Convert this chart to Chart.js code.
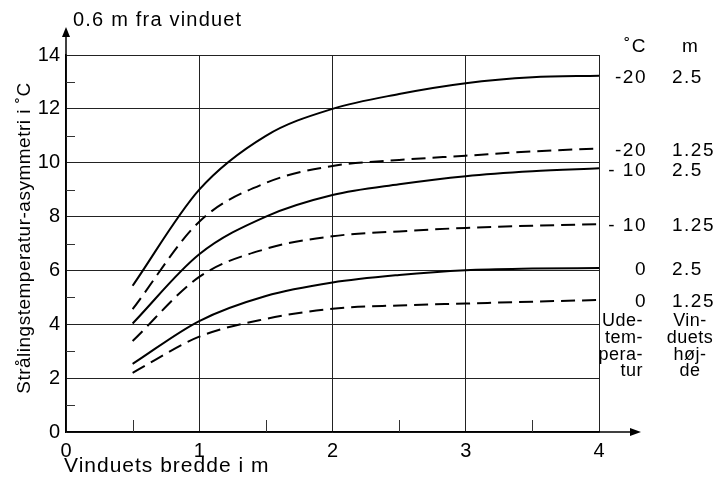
<!DOCTYPE html>
<html>
<head>
<meta charset="utf-8">
<script src="https://cdn.jsdelivr.net/npm/chart.js@4.4.1/dist/chart.umd.min.js"></script>
<style>
  html, body { margin: 0; padding: 0; background: #fff; }
  #wrap { width: 724px; height: 485px; }
</style>
</head>
<body>
<div id="wrap"><canvas id="chart" width="724" height="485"></canvas></div>
<script>
// Vinduets bredde (m)
const bredde = [0.5, 1, 1.5, 2, 2.5, 3, 3.5, 4];

// Strålingstemperatur-asymmetri (°C) per udetemperatur / vinduets højde
const minus20_250 = [5.43, 9.0, 11.0, 12.0, 12.55, 12.95, 13.17, 13.23];
const minus20_125 = [4.56, 7.81, 9.25, 9.88, 10.1, 10.26, 10.42, 10.53];
const minus10_250 = [4.03, 6.6, 8.0, 8.8, 9.2, 9.5, 9.68, 9.79];
const minus10_125 = [3.38, 5.76, 6.8, 7.27, 7.45, 7.58, 7.66, 7.72];
const nul_250 = [2.53, 4.12, 5.05, 5.55, 5.83, 6.01, 6.07, 6.09];
const nul_125 = [2.2, 3.54, 4.2, 4.58, 4.7, 4.77, 4.84, 4.9];

const udeTemp = ['-20', '-20', '- 10', '- 10', '0', '0'];
const hojde = ['2.5', '1.25', '2.5', '1.25', '2.5', '1.25'];

const yMinor = [1, 3, 5, 7, 9, 11, 13];
const xMinor = [0.5, 1.5, 2.5, 3.5];

const FONT = '"Liberation Sans", Arial, Helvetica, sans-serif';

function pts(ys) {
    return bredde.map((x, i) => ({ x: x, y: ys[i] }));
}

function serie(label, ys, dashed) {
    return {
        label: label,
        data: pts(ys),
        borderColor: '#000',
        borderWidth: 2,
        borderDash: dashed ? [14, 7] : [],
        pointRadius: 0,
        fill: false,
        cubicInterpolationMode: 'monotone'
    };
}

// pile, små hjælpestreger og tekster
const pynt = {
    id: 'pynt',
    afterDraw(chart) {
        const ctx = chart.ctx;
        const xs = chart.scales.x, ys = chart.scales.y;
        const a = chart.chartArea;
        ctx.save();
        ctx.strokeStyle = '#000';
        ctx.fillStyle = '#000';
        ctx.lineWidth = 1.5;

        // y-akse pil
        ctx.beginPath();
        ctx.moveTo(a.left, a.top);
        ctx.lineTo(a.left, 34);
        ctx.stroke();
        ctx.beginPath();
        ctx.moveTo(a.left, 27);
        ctx.lineTo(a.left - 4, 37);
        ctx.lineTo(a.left + 4, 37);
        ctx.closePath();
        ctx.fill();

        // x-akse pil
        ctx.beginPath();
        ctx.moveTo(a.right, a.bottom);
        ctx.lineTo(632, a.bottom);
        ctx.stroke();
        ctx.beginPath();
        ctx.moveTo(641, a.bottom);
        ctx.lineTo(630, a.bottom - 4);
        ctx.lineTo(630, a.bottom + 4);
        ctx.closePath();
        ctx.fill();

        // små streger
        ctx.lineWidth = 1;
        ctx.strokeStyle = '#333';
        yMinor.forEach(v => {
            const p = Math.round(ys.getPixelForValue(v)) + 0.5;
            ctx.beginPath();
            ctx.moveTo(a.left, p);
            ctx.lineTo(a.left + 9, p);
            ctx.stroke();
        });
        xMinor.forEach(v => {
            const p = Math.round(xs.getPixelForValue(v)) + 0.5;
            ctx.beginPath();
            ctx.moveTo(p, a.bottom);
            ctx.lineTo(p, a.bottom - 12);
            ctx.stroke();
        });

        ctx.textBaseline = 'middle';

        // overskrift
        ctx.font = '20px ' + FONT;
        ctx.letterSpacing = '1.2px';
        ctx.textAlign = 'left';
        ctx.fillText('0.6 m fra vinduet', 73, 20);

        // aksetitler
        ctx.font = '21px ' + FONT;
        ctx.letterSpacing = '1px';
        ctx.fillText('Vinduets bredde i m', 64, 466);

        ctx.save();
        ctx.translate(25, 238);
        ctx.rotate(-Math.PI / 2);
        ctx.textAlign = 'center';
        ctx.font = '19px ' + FONT;
        ctx.letterSpacing = '0.5px';
        ctx.fillText('Strålingstemperatur-asymmetri i \u02DAC', 0, 0);
        ctx.restore();

        // kolonneoverskrifter
        ctx.font = '19px ' + FONT;
        ctx.letterSpacing = '1.5px';
        ctx.textAlign = 'right';
        ctx.fillText('\u02DAC', 647, 47);
        ctx.textAlign = 'left';
        ctx.fillText('m', 682, 47);

        // etiketter ved kurvernes ende
        chart.data.datasets.forEach((ds, i) => {
            const last = ds.data[ds.data.length - 1];
            const py = ys.getPixelForValue(last.y) + 2;
            ctx.textAlign = 'right';
            ctx.fillText(udeTemp[i], 647, py);
            ctx.textAlign = 'left';
            ctx.fillText(hojde[i], 672, py);
        });

        // forklaring
        const venstre = ['Ude-', 'tem-', 'pera-', 'tur'];
        const hoejre = ['Vin-', 'duets', 'høj-', 'de'];
        const rows = [321, 338, 355, 371];
        ctx.font = '18px ' + FONT;
        ctx.letterSpacing = '0.5px';
        rows.forEach((y, i) => {
            ctx.textAlign = 'right';
            ctx.fillText(venstre[i], 643, y);
            ctx.textAlign = 'center';
            ctx.fillText(hoejre[i], 690, y);
        });
        ctx.restore();
    }
};

const ctx1 = document.getElementById('chart').getContext('2d');
const chart = new Chart(ctx1, {
    type: 'line',
    data: {
        datasets: [
            serie('-20 °C, 2.5 m', minus20_250, false),
            serie('-20 °C, 1.25 m', minus20_125, true),
            serie('-10 °C, 2.5 m', minus10_250, false),
            serie('-10 °C, 1.25 m', minus10_125, true),
            serie('0 °C, 2.5 m', nul_250, false),
            serie('0 °C, 1.25 m', nul_125, true)
        ]
    },
    options: {
        responsive: false,
        animation: false,
        layout: { padding: { top: 55, right: 125, left: 0, bottom: 0 } },
        plugins: {
            legend: { display: false },
            tooltip: { enabled: false }
        },
        scales: {
            x: {
                type: 'linear',
                min: 0,
                max: 4,
                afterFit: function(scale) { scale.height = 53; },
                ticks: {
                    stepSize: 1,
                    color: '#000',
                    padding: 7,
                    font: { family: FONT, size: 20 }
                },
                grid: { color: '#222', lineWidth: 1, drawTicks: false },
                border: { color: '#000', width: 1.5 }
            },
            y: {
                min: 0,
                max: 14,
                afterFit: function(scale) { scale.width = 66; },
                ticks: {
                    stepSize: 2,
                    color: '#000',
                    padding: 6,
                    font: { family: FONT, size: 20 }
                },
                grid: { color: '#222', lineWidth: 1, drawTicks: false },
                border: { color: '#000', width: 1.5 }
            }
        }
    },
    plugins: [pynt]
});
</script>
</body>
</html>
